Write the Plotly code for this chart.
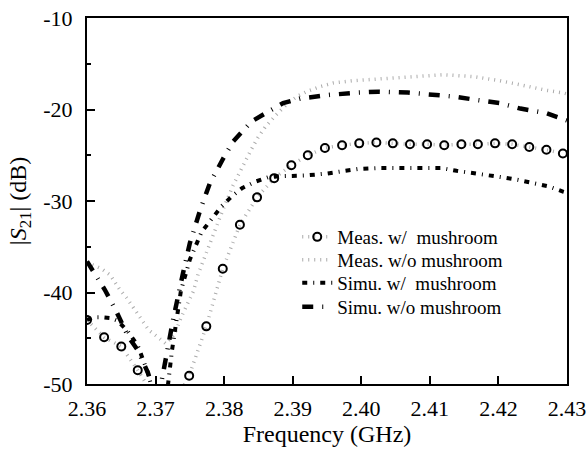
import plotly.graph_objects as go

# ---- data ----
meas_w_f = [2.3600, 2.3625, 2.3650, 2.3674, 2.3699, 2.3724, 2.3749, 2.3774, 2.3798, 2.3823,
            2.3848, 2.3873, 2.3898, 2.3922, 2.3947, 2.3972, 2.3997, 2.4022, 2.4046, 2.4071,
            2.4096, 2.4121, 2.4146, 2.4170, 2.4195, 2.4220, 2.4245, 2.4270, 2.4294]
meas_w_v = [-43.0, -44.9, -45.9, -48.5, -51.5, -52.5, -49.1, -43.7, -37.4, -32.6,
            -29.6, -27.5, -26.1, -25.0, -24.2, -23.9, -23.7, -23.6, -23.7, -23.8,
            -23.8, -23.9, -23.8, -23.8, -23.7, -23.8, -24.1, -24.4, -24.8]

meas_wo_f = [2.3600, 2.3621, 2.3634, 2.3648, 2.3658, 2.3668, 2.3675, 2.3690, 2.3702, 2.3715,
             2.3728, 2.3738, 2.3748, 2.3755, 2.3762, 2.3770, 2.3784, 2.3798, 2.3813, 2.3826,
             2.3838, 2.3849, 2.3860, 2.3877, 2.3893, 2.3908, 2.3920, 2.3940, 2.3959, 2.3988,
             2.4022, 2.4056, 2.4095, 2.4120, 2.4163, 2.4202, 2.4245, 2.4270, 2.4295, 2.4300]
meas_wo_v = [-36.7, -37.4, -38.1, -39.7, -40.6, -41.7, -42.5, -44.1, -44.8, -45.6,
             -44.5, -42.6, -41.0, -39.9, -38.0, -36.4, -33.7, -31.0, -28.3, -26.3,
             -24.6, -23.1, -21.9, -20.5, -19.3, -18.5, -18.05, -17.5, -17.1, -16.85,
             -16.7, -16.5, -16.3, -16.2, -16.4, -16.85, -17.5, -17.9, -18.2, -18.3]

simu_w_f = [2.3600, 2.3610, 2.3622, 2.3635, 2.3645, 2.3660, 2.3674, 2.3688, 2.3695, 2.3700,
            2.3712, 2.3718, 2.3724, 2.3737, 2.3750, 2.3767, 2.3782, 2.3796, 2.3811, 2.3826,
            2.3845, 2.3864, 2.3881, 2.3908, 2.3920, 2.3950, 2.3974, 2.3995, 2.4023, 2.4046,
            2.4074, 2.4093, 2.4117, 2.4139, 2.4161, 2.4183, 2.4205, 2.4229, 2.4251, 2.4273,
            2.4295, 2.4300]
simu_w_v = [-43.0, -42.7, -42.7, -42.8, -43.1, -44.3, -45.8, -48.6, -50.5, -53.0,
            -54.0, -50.0, -46.3, -39.8, -36.4, -33.4, -31.9, -30.6, -29.5, -28.6,
            -27.9, -27.4, -27.3, -27.3, -27.2, -27.0, -26.7, -26.5, -26.4, -26.4,
            -26.4, -26.4, -26.4, -26.7, -26.9, -27.2, -27.4, -27.7, -28.1, -28.4,
            -29.0, -29.1]

simu_wo_f = [2.3600, 2.3613, 2.3626, 2.3643, 2.3660, 2.3674, 2.3689, 2.3698, 2.3702, 2.3708,
             2.3711, 2.3726, 2.3740, 2.3750, 2.3765, 2.3779, 2.3799, 2.3813, 2.3840, 2.3867,
             2.3886, 2.3911, 2.3954, 2.3996, 2.4025, 2.4068, 2.4095, 2.4137, 2.4163, 2.4202,
             2.4232, 2.4270, 2.4300]
simu_wo_v = [-36.6, -38.1, -39.7, -42.1, -44.8, -46.3, -48.8, -51.0, -53.0, -50.0,
             -48.8, -42.8, -37.9, -34.6, -31.0, -28.1, -25.3, -23.5, -21.3, -20.1,
             -19.3, -18.8, -18.4, -18.15, -18.05, -18.15, -18.3, -18.6, -18.9, -19.3,
             -19.9, -20.4, -21.2]

names = ["Meas. w/\u00a0 mushroom", "Meas. w/o mushroom",
         "Simu. w/\u00a0 mushroom", "Simu. w/o mushroom"]

x_ticks = [2.36, 2.37, 2.38, 2.39, 2.40, 2.41, 2.42, 2.43]
x_tick_labels = ["2.36", "2.37", "2.38", "2.39", "2.40", "2.41", "2.42", "2.43"]
y_ticks = [-50, -40, -30, -20, -10]
y_tick_labels = ["-50", "-40", "-30", "-20", "-10"]

FONT = "Liberation Serif"
GRAY = "#ababab"

fig = go.Figure()
fig.add_trace(go.Scatter(
    x=meas_w_f, y=meas_w_v, name=names[0], mode="lines+markers", legend="legend",
    line=dict(color=GRAY, width=3.5, dash="1px,5px"),
    marker=dict(symbol="circle-open", size=8, color="black", line=dict(width=2, color="black")),
))
fig.add_trace(go.Scatter(
    x=meas_wo_f, y=meas_wo_v, name=names[1], mode="lines", legend="legend2",
    line=dict(color=GRAY, width=3.5, dash="1px,5px"),
))
fig.add_trace(go.Scatter(
    x=simu_w_f, y=simu_w_v, name=names[2], mode="lines", legend="legend3",
    line=dict(color="black", width=4, dash="5px,6px,1px,6px"),
))
fig.add_trace(go.Scatter(
    x=simu_wo_f, y=simu_wo_v, name=names[3], mode="lines", legend="legend4",
    line=dict(color="black", width=4.5, dash="11px,9px,1px,9px"),
))

def leg(ypaper):
    return dict(
        x=0.438, y=ypaper, xanchor="left", yanchor="middle",
        bgcolor="rgba(0,0,0,0)", borderwidth=0,
        font=dict(family=FONT, size=19, color="black"),
    )

fig.update_layout(
    width=587, height=452,
    margin=dict(l=87, r=20, t=18, b=68),
    paper_bgcolor="white", plot_bgcolor="white",
    font=dict(family=FONT, color="black", size=22),
    showlegend=True,
    legend=leg(0.4016), legend2=leg(0.3388), legend3=leg(0.2760), legend4=leg(0.2104),
    xaxis=dict(
        range=[2.36, 2.43], tickvals=x_ticks, ticktext=x_tick_labels,
        ticks="inside", ticklen=8, tickwidth=1.5, tickcolor="black",
        showline=True, linewidth=2, linecolor="black", mirror=True,
        showgrid=False, zeroline=False, automargin=False,
        tickfont=dict(family=FONT, size=22, color="black"),
        ticklabelstandoff=4,
        title=dict(text="Frequency (GHz)", font=dict(family=FONT, size=24, color="black"), standoff=3),
    ),
    yaxis=dict(
        range=[-50, -10], tickvals=y_ticks, ticktext=y_tick_labels,
        ticks="inside", ticklen=8, tickwidth=1.5, tickcolor="black",
        minor=dict(ticks="inside", ticklen=4, tickwidth=1.5, tickcolor="black", dtick=5, tick0=-50),
        showline=True, linewidth=2, linecolor="black", mirror=True,
        showgrid=False, zeroline=False, automargin=False,
        tickfont=dict(family=FONT, size=22, color="black"),
        ticklabelstandoff=8,
        title=dict(text="|<i>S</i><sub>21</sub>| (dB)", font=dict(family=FONT, size=24, color="black"), standoff=10),
    ),
)

fig.write_html(
    "out.html",
    config={"displayModeBar": False},
    post_script="document.body.style.margin='0px';document.body.style.padding='0px';",
)
